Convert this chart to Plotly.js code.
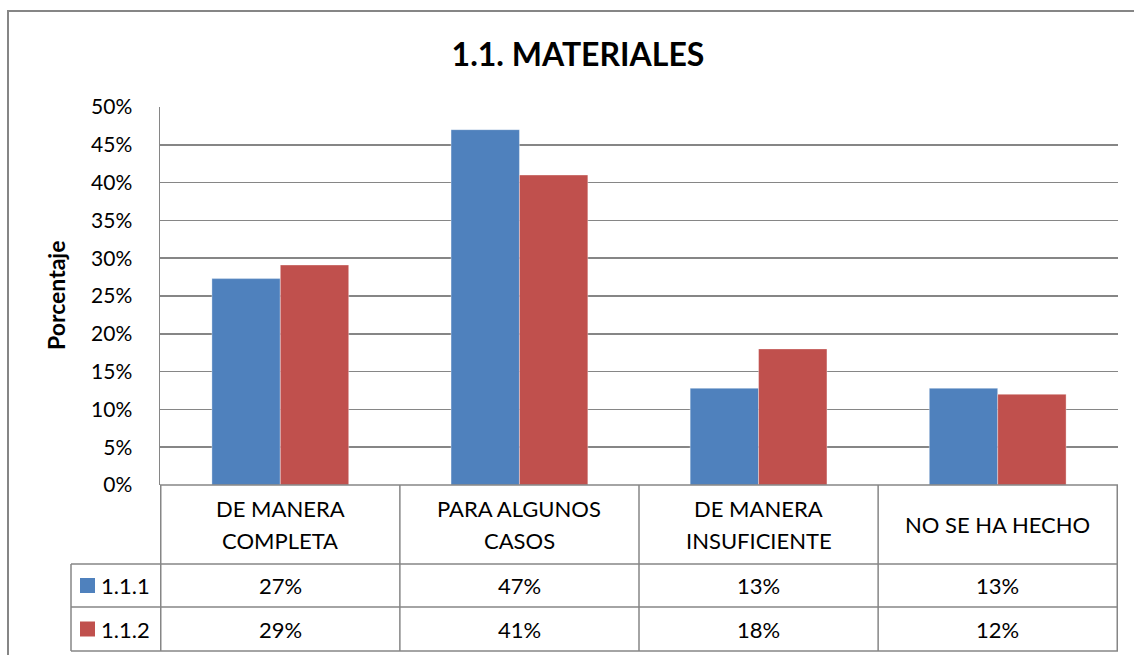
<!DOCTYPE html>
<html>
<head>
<meta charset="utf-8">
<script src="https://cdn.plot.ly/plotly-3.0.1.min.js"></script>
<style>html,body{margin:0;padding:0;background:#fff;}#chart{width:1134px;height:655px;}</style>
</head>
<body>
<div id="chart"></div>
<script>
const categories = ["DE MANERA<br>COMPLETA", "PARA ALGUNOS<br>CASOS", "DE MANERA<br>INSUFICIENTE", "NO SE HA HECHO"];
const seriesNames = ["1.1.1", "1.1.2"];
const series111 = [27.3, 47.0, 12.8, 12.8];
const series112 = [29.1, 41.0, 18.0, 12.0];
const tickValues = [0, 5, 10, 15, 20, 25, 30, 35, 40, 45, 50];
const tickLabels = ["0%", "5%", "10%", "15%", "20%", "25%", "30%", "35%", "40%", "45%", "50%"];
const colors = ["#4F81BD", "#C0504D"];

const FONT = "Lato, 'Open Sans', sans-serif";
const W = 1134, H = 655;
const L = 160, R = 1118, T = 107, B = 485;
const px = x => (x - L) / (R - L);
const py = y => (B - y) / (B - T);
const gridCol = "#868686";
const TFS = 21;
const CFS = 22;

const seriesData = [series111, series112];
const traces = seriesData.map((vals, i) => ({
  type: "bar",
  name: seriesNames[i],
  x: categories,
  y: vals,
  marker: {color: colors[i], line: {color: "rgba(255,255,255,0.35)", width: 1}},
  hoverinfo: "x+y"
}));

const shapes = [];
const annotations = [];
const line = (xref, x0, x1, y0, y1) => shapes.push({type: "line", xref: xref, yref: "paper", x0, x1, y0, y1, line: {color: gridCol, width: 1.5}});

// outer chart border
shapes.push({type: "rect", xref: "paper", yref: "paper", x0: px(8), x1: px(1145), y0: py(11), y1: py(665), line: {color: gridCol, width: 2}, fillcolor: "rgba(0,0,0,0)"});

// data table lines
const rowY = [485, 564, 607, 651];
line("paper", px(L), px(R), py(rowY[0]), py(rowY[0]));
for (let k = 1; k < rowY.length; k++) line("paper", px(71), px(R), py(rowY[k]), py(rowY[k]));
line("paper", px(71), px(71), py(rowY[1]), py(rowY[3]));
for (let c = 0; c <= categories.length; c++) line("x", c - 0.5, c - 0.5, py(rowY[0]), py(rowY[3]));

const ann = (o) => annotations.push(Object.assign({showarrow: false, xanchor: "center", yanchor: "middle", font: {family: FONT, size: CFS, color: "#000"}}, o));

// header labels and values
categories.forEach((cat, c) => {
  const parts = cat.split("<br>");
  const lh = 32;
  parts.forEach((p, j) => {
    const cy = 524 + (j - (parts.length - 1) / 2) * lh;
    ann({x: c, xref: "x", y: py(cy), yref: "paper", text: p});
  });
  seriesData.forEach((vals, i) => {
    ann({x: c, xref: "x", y: py((rowY[i + 1] + rowY[i + 2]) / 2), yref: "paper", text: Math.round(vals[c]) + "%"});
  });
});

// legend keys in the table
seriesNames.forEach((nm, i) => {
  const cy = (rowY[i + 1] + rowY[i + 2]) / 2;
  shapes.push({type: "rect", xref: "paper", yref: "paper", x0: px(80), x1: px(95), y0: py(cy + 7.5), y1: py(cy - 7.5), fillcolor: colors[i], line: {width: 0}});
  ann({x: px(99), xref: "paper", xanchor: "left", y: py(cy), yref: "paper", text: nm});
});

// y axis title
ann({x: px(56), xref: "paper", y: py(296), yref: "paper", text: "<b>Porcentaje</b>", textangle: -90, font: {family: FONT, size: 23, color: "#000"}});

const layout = {
  width: W, height: H,
  margin: {l: L, r: W - R, t: T, b: H - B},
  paper_bgcolor: "#fff", plot_bgcolor: "#fff",
  font: {family: FONT, size: TFS, color: "#000"},
  title: {text: "<b>1.1. MATERIALES</b>", x: 578 / W, xref: "container", xanchor: "center", y: 1 - 55 / H, yref: "container", yanchor: "middle", font: {family: FONT, size: 32, color: "#000"}},
  barmode: "group",
  bargap: 0.428,
  bargroupgap: 0,
  showlegend: false,
  xaxis: {type: "category", showticklabels: false, ticks: "", showgrid: false, zeroline: false, showline: false, fixedrange: true},
  yaxis: {range: [0, 50], tickvals: tickValues, ticktext: tickLabels, showgrid: true, gridcolor: gridCol, gridwidth: 1.5, zeroline: false, showline: true, linecolor: gridCol, linewidth: 1.5, ticks: "", ticklabelstandoff: 22, tickfont: {family: FONT, size: TFS, color: "#000"}, automargin: false, fixedrange: true},
  shapes: shapes,
  annotations: annotations
};

Plotly.newPlot("chart", traces, layout, {displayModeBar: false, staticPlot: true});
</script>
</body>
</html>
